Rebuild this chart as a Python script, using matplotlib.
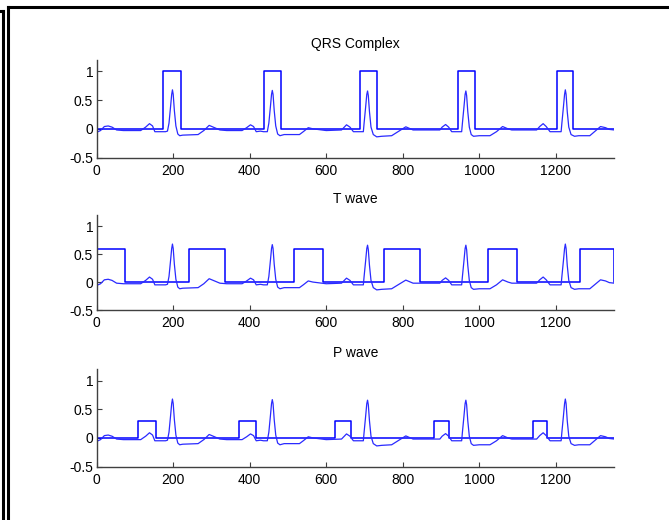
import numpy as np
import matplotlib
matplotlib.use('Agg')
from matplotlib import pyplot as plt
from matplotlib.lines import Line2D

plt.rcParams['font.family'] = 'Liberation Sans'
plt.rcParams['font.size'] = 10

# ECG trace (sample index, amplitude)
ecg_x = [0, 10, 20, 30, 40, 52, 70, 115, 128, 138, 146, 152, 180, 185,
         189, 193, 196, 198, 200, 203, 207, 212, 217, 225,
         265, 280, 294, 308, 322, 340, 380, 392, 402, 410, 417, 428, 436, 446,
         450, 454, 457, 459, 461, 464, 468, 473, 479,
         490, 530, 540, 553, 565, 600, 640, 653, 662, 671, 697,
         699, 703, 706, 708, 710, 713, 717, 723, 732,
         745, 771, 790, 808, 827, 897, 903, 912, 920, 928, 954,
         956, 960, 963, 965, 967, 970, 974, 979, 985,
         1000, 1028, 1045, 1061, 1075, 1085, 1150, 1158, 1167, 1175, 1185, 1214,
         1216, 1220, 1223, 1225, 1227, 1230, 1234, 1240, 1249,
         1260, 1289, 1303, 1317, 1330, 1340, 1353]
ecg_y = [-0.06, -0.03, 0.04, 0.05, 0.03, -0.02, -0.03, -0.03, 0.03, 0.09, 0.05, -0.05, -0.05, -0.04,
         0.1, 0.38, 0.6, 0.68, 0.6, 0.32, 0.05, -0.09, -0.12, -0.11,
         -0.1, -0.03, 0.06, 0.02, -0.02, -0.03, -0.03, 0.02, 0.07, 0.04, -0.05, -0.04, -0.05, -0.05,
         0.1, 0.38, 0.6, 0.67, 0.6, 0.32, 0.05, -0.09, -0.12,
         -0.1, -0.1, -0.05, 0.02, 0.0, -0.03, -0.02, 0.07, 0.03, -0.05, -0.05,
         0.1, 0.38, 0.6, 0.66, 0.58, 0.3, 0.03, -0.1, -0.14,
         -0.13, -0.12, -0.04, 0.035, -0.02, -0.02, 0.03, 0.075, 0.03, -0.05, -0.05,
         0.1, 0.38, 0.6, 0.66, 0.58, 0.3, 0.03, -0.1, -0.13,
         -0.12, -0.12, -0.05, 0.04, 0.0, -0.02, -0.02, 0.04, 0.09, 0.04, -0.05, -0.05,
         0.1, 0.38, 0.6, 0.68, 0.6, 0.3, 0.03, -0.1, -0.13,
         -0.12, -0.12, -0.04, 0.04, 0.02, -0.01, -0.02]

# detected windows (start, end) and marker level
qrs_on = [174, 437, 688, 945, 1203]
qrs_off = [220, 482, 732, 990, 1246]
qrs_level = 1.0

t_on = [0, 241, 515, 752, 1024, 1264]
t_off = [75, 335, 591, 845, 1099, 1353]
t_level = 0.6

p_on = [109, 373, 623, 882, 1141]
p_off = [154, 416, 665, 921, 1177]
p_level = 0.3

n_samples = 1353
titles = ['QRS Complex', 'T wave', 'P wave']


def window_trace(on, off, level):
    xs, ys = [0], [0]
    for a, b in zip(on, off):
        xs += [a, a, b, b]
        ys += [0, level, level, 0]
    xs.append(n_samples)
    ys.append(0)
    return xs, ys


windows = [(qrs_on, qrs_off, qrs_level), (t_on, t_off, t_level), (p_on, p_off, p_level)]

fig = plt.figure(figsize=(6.69, 5.2), dpi=100)

# panel boxes in pixels: (top, bottom)
boxes = [(60, 157.5), (215, 310), (369.3, 466.5)]
left, right = 96.7, 614.3

for i, title in enumerate(titles):
    top, bot = boxes[i]
    ax = fig.add_axes([left / 669, 1 - bot / 520, (right - left) / 669, (bot - top) / 520])
    ax.spines['right'].set_visible(False)
    ax.spines['top'].set_visible(False)
    for s in ['left', 'bottom']:
        ax.spines[s].set_color('#404040')
        ax.spines[s].set_linewidth(1.0)

    wx, wy = window_trace(*windows[i])
    ax.plot(wx, wy, color='#0000ff', lw=1.1)
    ax.plot(ecg_x, ecg_y, color='#2a2aff', lw=0.9)

    ax.set_xlim(0, n_samples)
    ax.set_ylim(-0.5, 1.2)
    ax.set_xticks([0, 200, 400, 600, 800, 1000, 1200])
    ax.set_yticks([-0.5, 0, 0.5, 1])
    ax.set_yticklabels(['-0.5', '0', '0.5', '1'])
    ax.tick_params(direction='in', length=3.6, width=0.8, colors='#404040', labelcolor='black')
    ax.tick_params(axis='y', pad=2.5)
    ax.tick_params(axis='x', pad=4.5)
    ax.set_title(title, fontsize=10, pad=8.5)

# outer frame lines
def fline(x0, y0, x1, y1, lw=2.2):
    fig.add_artist(Line2D([x0 / 669, x1 / 669], [1 - y0 / 520, 1 - y1 / 520],
                          transform=fig.transFigure, color='black', lw=lw))

fline(7.5, 7, 669, 7)
fline(7.5, 7, 7.5, 520)
fline(3, 11, 3, 520)
fline(0, 11, 3, 11)

fig.savefig('out.png', dpi=100)
